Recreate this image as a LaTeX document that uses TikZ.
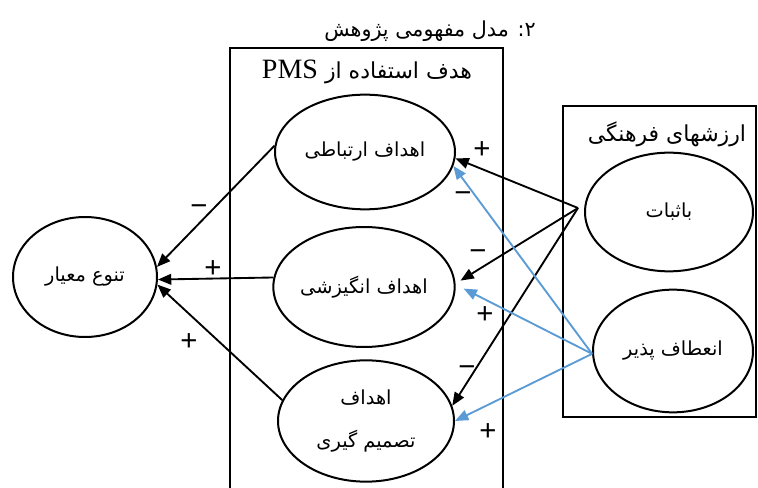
\documentclass[tikz,border=0pt]{standalone}
\usepackage{fontspec}
\setmainfont{Liberation Serif}
\newfontfamily\fa[Script=Arabic]{DejaVu Sans}
\newfontfamily\sgn{Liberation Sans}
\TeXXeTstate=1
\usetikzlibrary{arrows.meta,shapes.geometric}

\definecolor{linkblue}{RGB}{91,155,213}

\tikzset{
  concept/.style={draw, line width=1.5pt, ellipse, inner sep=0pt,
    font=\fa\fontsize{14.5}{17}\selectfont},
  link/.style={-{Triangle[length=10pt,width=8pt]}, line width=1.4pt},
  bluelink/.style={link, draw=linkblue, -{Triangle[length=10pt,width=8pt,fill=linkblue]}},
  sign/.style={font=\sgn\fontsize{22}{22}\selectfont, inner sep=0pt},
  heading/.style={font=\fa\fontsize{15.5}{18}\selectfont, inner sep=0pt},
}

\begin{document}
\begin{tikzpicture}[x=0.75pt, y=-0.75pt]

\useasboundingbox (0,0) rectangle (758,488);

% title and boxes
\node[heading] (title) at (430,31) {\beginR ۲: مدل مفهومی پژوهش\endR};

\draw[line width=1.5pt] (230,492) -- (230,48) -- (503,48) -- (503,492);
\node[heading, font=\fa\fontsize{16.5}{18}\selectfont] (pmstitle) at (367,72) {\beginR هدف استفاده از \beginL{\rmfamily\fontsize{21}{21}\selectfont PMS}\endL\endR};

\draw[line width=1.5pt] (563,106) rectangle (756,417);
\node[heading, font=\fa\fontsize{16.5}{18}\selectfont] (farhangtitle) at (667,134) {\beginR ارزشهای فرهنگی\endR};

% ellipses
\node[concept, minimum width=108pt, minimum height=90pt] (tanavo) at (85,277) {\beginR تنوع معیار\endR};

\node[concept, minimum width=135pt, minimum height=86pt] (ertebati) at (365,152) {\beginR اهداف ارتباطی\endR};
\node[concept, minimum width=136pt, minimum height=90pt] (angizeshi) at (364,287) {\beginR اهداف انگیزشی\endR};
\node[concept, minimum width=132pt, minimum height=91pt, align=center] (tasmim) at (366,421)
  {\beginR اهداف\endR\\[15pt]\beginR تصمیم گیری\endR};

\node[concept, minimum width=126pt, minimum height=89pt] (sabat) at (669,212) {\beginR باثبات\endR};
\node[concept, minimum width=120pt, minimum height=92pt] (enetaf) at (673,351) {\beginR انعطاف پذیر\endR};

\coordinate (sabatL) at (578,208);

% arrows to tanavo
\draw[link] (ertebati.176) -- (tanavo.8);
\draw[link] (angizeshi.174) -- (tanavo.-2);
\draw[link] (tasmim.166) -- (tanavo.-6);

% arrows from sabat
\draw[link] (sabatL) -- (ertebati.-4);
\draw[link] (sabatL) -- ([xshift=4pt]angizeshi.4);
\draw[link] (sabatL) -- (tasmim.10);

% arrows from enetaf
\draw[bluelink] (enetaf.182) -- (ertebati.-9);
\draw[bluelink] (enetaf.182) -- ([xshift=6pt]angizeshi.-1);
\draw[bluelink] (enetaf.182) -- (tasmim.0);

% signs
\node[sign] (s1) at (199,210) {−};
\node[sign] (s2) at (213,269) {+};
\node[sign] (s3) at (189,342) {+};

\node[sign] (s4) at (482,150) {+};
\node[sign] (s5) at (463,197) {−};
\node[sign] (s6) at (478,255) {−};
\node[sign] (s7) at (485,315) {+};
\node[sign] (s8) at (467,371) {−};
\node[sign] (s9) at (488,432) {+};

\end{tikzpicture}
\end{document}
